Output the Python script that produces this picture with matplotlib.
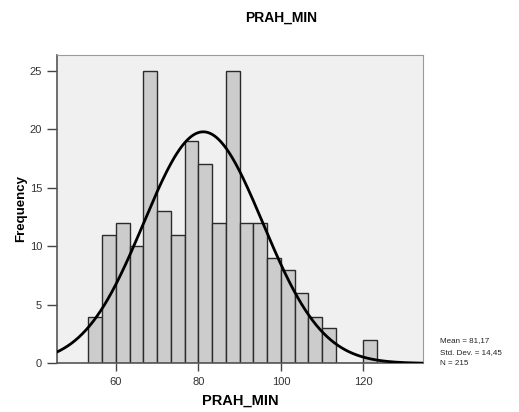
import numpy as np
import matplotlib.pyplot as plt

plt.rcParams['font.family'] = ['Liberation Sans', 'DejaVu Sans']

# histogram of PRAH_MIN (bins of width 10/3 starting at 53.33)
bin_start = 53.333
bin_width = 10 / 3
counts = [4, 11, 12, 10, 25, 13, 11, 19, 17, 12, 25, 12, 12, 9, 8, 6, 4, 3, 0, 0, 2]
mean, sd, n = 81.17, 14.45, 215
xticks = [60, 80, 100, 120]
yticks = [0, 5, 10, 15, 20, 25]

edges = bin_start + bin_width * np.arange(len(counts))

fig = plt.figure(figsize=(5.19, 4.12), dpi=100)
ax = fig.add_axes([0.109, 0.118, 0.7055, 0.7485])
ax.set_facecolor('#f0f0f0')

ax.bar(edges, counts, width=bin_width, align='edge', color='#cccccc',
       edgecolor='#2b2b2b', linewidth=1.0, zorder=2)

# normal curve scaled to counts
xs = np.linspace(45.6, 134.4, 400)
ys = n * bin_width / (sd * np.sqrt(2 * np.pi)) * np.exp(-0.5 * ((xs - mean) / sd) ** 2)
ax.plot(xs, ys, color='black', linewidth=2.0, zorder=3)

ax.set_xlim(45.6, 134.4)
ax.set_ylim(0, 26.35)
ax.set_xticks(xticks)
ax.set_yticks(yticks)
ax.tick_params(axis='both', direction='out', colors='#444444', labelsize=8,
               labelcolor='#333333')
ax.tick_params(axis='y', length=7, width=1)
ax.tick_params(axis='x', length=6, width=1)

for s in ['top', 'right']:
    ax.spines[s].set_color('#9a9a9a')
for s in ['left', 'bottom']:
    ax.spines[s].set_color('#555555')
    ax.spines[s].set_linewidth(1.2)

fig.text(240 / 519, 1 - 401 / 412, 'PRAH_MIN', fontsize=10.5, fontweight='bold',
         ha='center', va='center')
fig.text(21.5 / 519, 1 - 208 / 412, 'Frequency', fontsize=9.5, fontweight='bold',
         ha='center', va='center', rotation=90)

fig.text(0.541, 1 - 18 / 412, 'PRAH_MIN', fontsize=10, fontweight='bold',
         ha='center', va='center')

stats = ['Mean = 81,17', 'Std. Dev. = 14,45', 'N = 215']
for i, line in enumerate(stats):
    fig.text(440 / 519, 1 - (341 + i * 11.2) / 412, line, fontsize=5.8,
             ha='left', va='center', color='#222222')

fig.savefig('out.png', dpi=100)
